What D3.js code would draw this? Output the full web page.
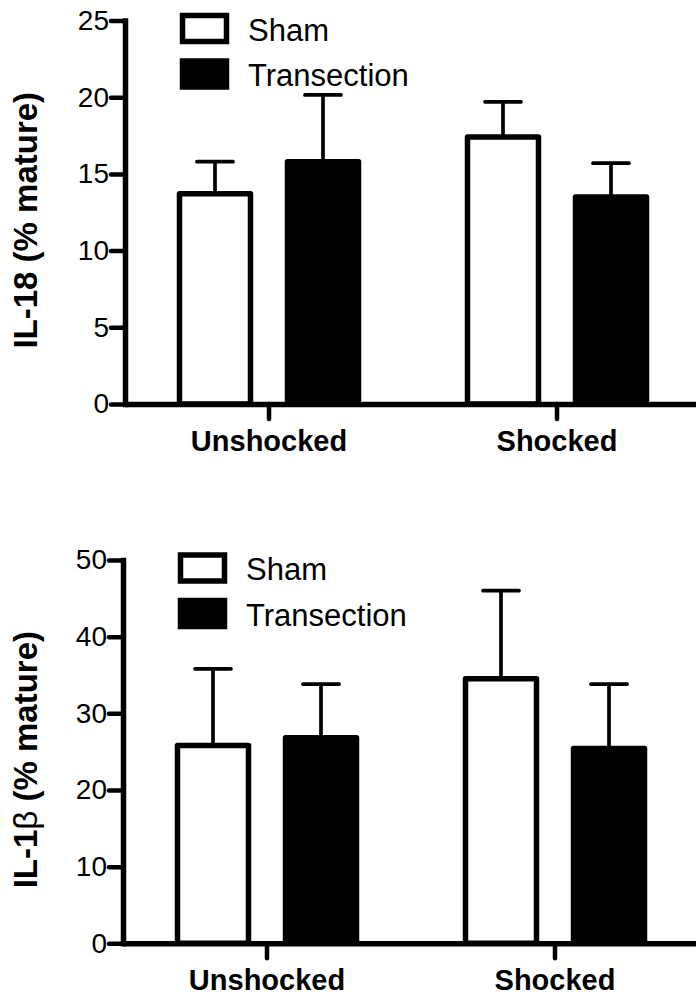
<!DOCTYPE html>
<html>
<head>
<meta charset="utf-8">
<script src="https://cdn.jsdelivr.net/npm/d3@7"></script>
<style>
  html, body { margin: 0; padding: 0; background: #fff; }
  svg { display: block; }
  text { font-family: "Liberation Sans", Arial, sans-serif; fill: #000; }
</style>
</head>
<body>
<svg id="chart" width="696" height="996"></svg>
<script>
// ---- data ----
const categories = ["Unshocked", "Shocked"];
const seriesNames = ["Sham", "Transection"];

// IL-18 (% mature)
const il18Sham = [13.7, 17.4];
const il18ShamErr = [2.1, 2.3];
const il18Trans = [15.8, 13.5];
const il18TransErr = [4.35, 2.2];
const il18Ticks = [0, 5, 10, 15, 20, 25];

// IL-1beta (% mature)
const il1bSham = [25.8, 34.5];
const il1bShamErr = [10.0, 11.5];
const il1bTrans = [26.8, 25.4];
const il1bTransErr = [7.0, 8.4];
const il1bTicks = [0, 10, 20, 30, 40, 50];

const svg = d3.select("#chart");

function panel(opts) {
  const { left, top, bottom, yMax, ticks, sham, shamErr, trans, transErr, titleParts } = opts;
  const g = svg.append("g");

  const x = d3.scaleBand().domain(categories).range([left, left + 576]).padding(0);
  const xs = d3.scalePoint().domain(seriesNames).range([-54, 54]);
  const y = d3.scaleLinear().domain([0, yMax]).range([bottom, top]);
  const barW = 71;

  const rows = [];
  categories.forEach((c, i) => {
    rows.push({ cat: c, s: "Sham", v: sham[i], e: shamErr[i] });
    rows.push({ cat: c, s: "Transection", v: trans[i], e: transErr[i] });
  });

  // error bars
  const eb = g.append("g");
  rows.forEach(d => {
    const cx = x(d.cat) + x.bandwidth() / 2 + xs(d.s);
    eb.append("line")
      .attr("x1", cx).attr("x2", cx)
      .attr("y1", y(d.v)).attr("y2", y(d.v + d.e))
      .attr("stroke", "#000").attr("stroke-width", 3.7);
    eb.append("line")
      .attr("x1", cx - 18).attr("x2", cx + 18)
      .attr("y1", y(d.v + d.e)).attr("y2", y(d.v + d.e))
      .attr("stroke", "#000").attr("stroke-width", 3.7)
      .attr("stroke-linecap", "round");
  });

  // bars
  g.append("g").selectAll("rect").data(rows).join("rect")
    .attr("x", d => x(d.cat) + x.bandwidth() / 2 + xs(d.s) - barW / 2)
    .attr("y", d => y(d.v))
    .attr("width", barW)
    .attr("height", d => y(0) - y(d.v))
    .attr("fill", d => d.s === "Sham" ? "#fff" : "#000")
    .attr("stroke", "#000")
    .attr("stroke-width", 5.5)
    .attr("stroke-linejoin", "round");

  // y axis
  const ya = g.append("g").attr("transform", `translate(${left},0)`)
    .call(d3.axisLeft(y).tickValues(ticks).tickSize(14).tickSizeOuter(0).tickPadding(2));
  ya.select(".domain").attr("stroke-width", 5.5).attr("stroke-linecap", "square");
  ya.selectAll(".tick line").attr("stroke-width", 4.5).attr("stroke-linecap", "round");
  ya.selectAll(".tick text")
    .attr("font-size", 28)
    .attr("font-family", "Liberation Sans, Arial, sans-serif")
    .attr("fill", "#000");

  // x axis
  const xa = g.append("g").attr("transform", `translate(0,${bottom})`)
    .call(d3.axisBottom(x).tickSize(15).tickSizeOuter(0));
  xa.select(".domain").attr("stroke-width", 5.5);
  xa.selectAll(".tick line").attr("stroke-width", 4.5).attr("stroke-linecap", "round");
  xa.selectAll(".tick text")
    .attr("y", 47).attr("dy", 0)
    .attr("font-size", 29)
    .attr("font-weight", "bold")
    .attr("font-family", "Liberation Sans, Arial, sans-serif")
    .attr("fill", "#000");

  // y title
  const t = g.append("text")
    .attr("transform", `translate(37,${(top + bottom) / 2 + 8}) rotate(-90)`)
    .attr("text-anchor", "middle")
    .attr("font-size", 33);
  titleParts.forEach(p => {
    t.append("tspan").attr("font-weight", p.bold ? "bold" : "normal").text(p.t);
  });

  // legend
  const lg = g.append("g");
  const ly = d3.scalePoint().domain(seriesNames).range([0, 45.5]);
  seriesNames.forEach(s => {
    lg.append("rect")
      .attr("x", left + 57.5).attr("y", top - 5 + ly(s))
      .attr("width", 44).attr("height", 26)
      .attr("fill", s === "Sham" ? "#fff" : "#000")
      .attr("stroke", "#000").attr("stroke-width", 5.5);
    lg.append("text")
      .attr("x", left + 123).attr("y", top + 20 + ly(s))
      .attr("font-size", 31)
      .text(s);
  });
}

panel({
  left: 125, top: 20.5, bottom: 404, yMax: 25, ticks: il18Ticks,
  sham: il18Sham, shamErr: il18ShamErr, trans: il18Trans, transErr: il18TransErr,
  titleParts: [{ t: "IL-18 (% mature)", bold: true }]
});

panel({
  left: 123, top: 560, bottom: 943.3, yMax: 50, ticks: il1bTicks,
  sham: il1bSham, shamErr: il1bShamErr, trans: il1bTrans, transErr: il1bTransErr,
  titleParts: [{ t: "IL-1", bold: true }, { t: "β", bold: false }, { t: " (% mature)", bold: true }]
});
</script>
</body>
</html>
